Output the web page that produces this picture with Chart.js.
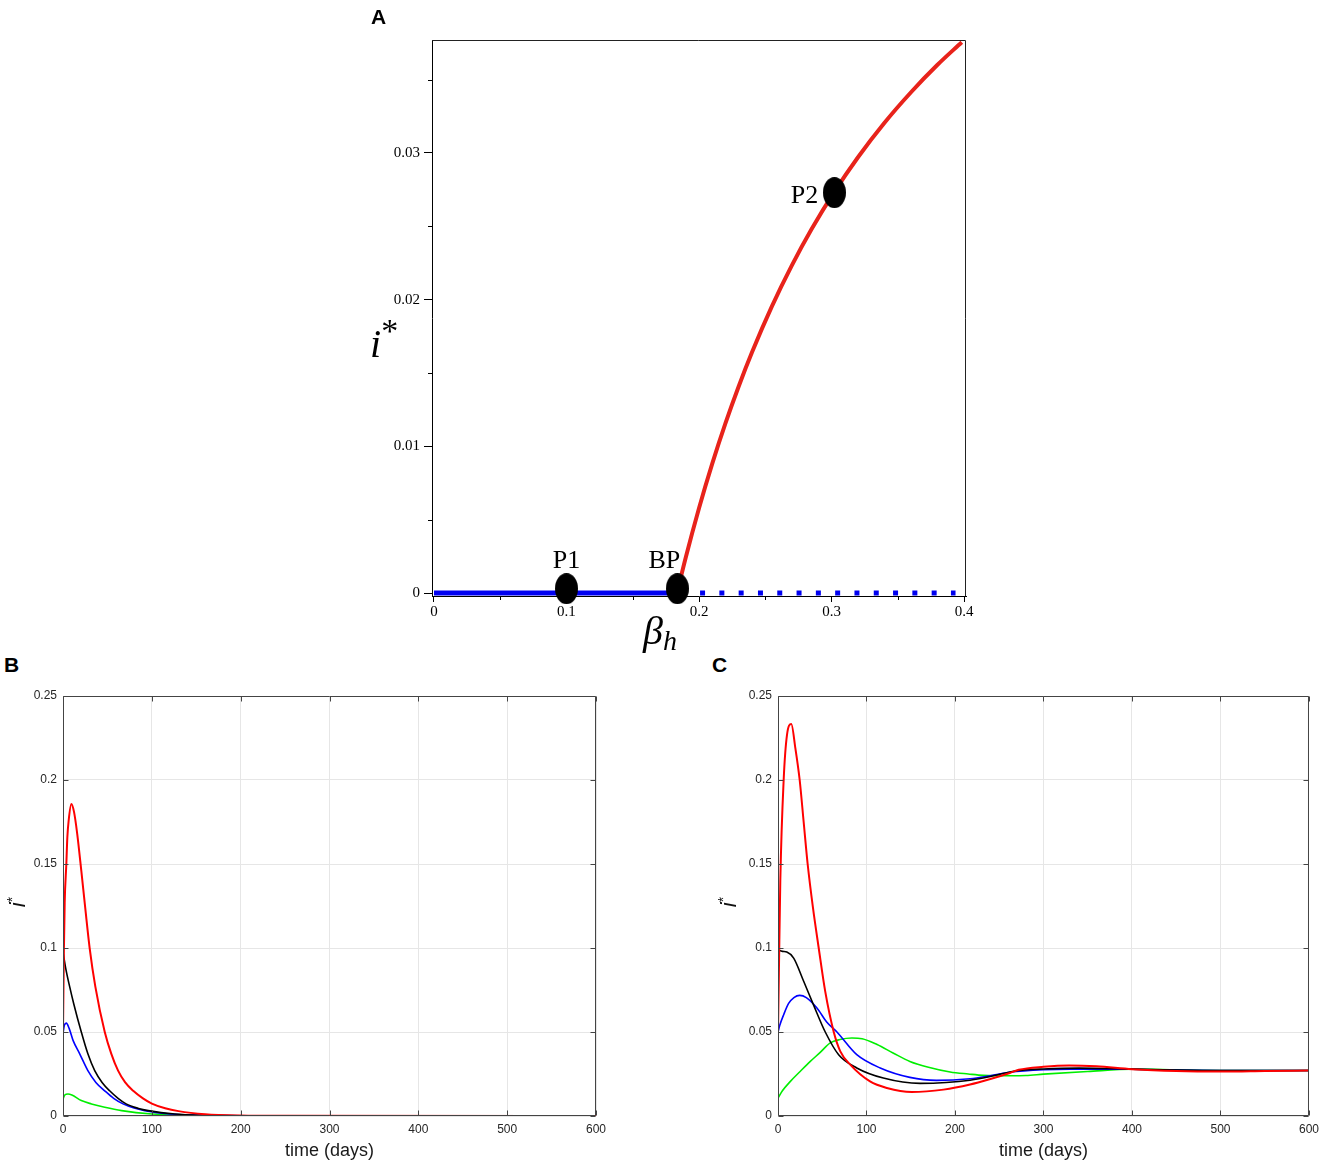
<!DOCTYPE html>
<html lang="en">
<head>
  <meta charset="UTF-8">
  <title>bifurcation and i* over time</title>
  <script src="https://cdn.jsdelivr.net/npm/chart.js@4.4.1/dist/chart.umd.min.js"></script>
  <style>
    html, body { margin: 0; padding: 0; background: #fff; }
    #page { position: relative; width: 1325px; height: 1166px; overflow: hidden; }
    .box { position: absolute; }
    .tag { position: absolute; font: bold 21px "Liberation Sans", Arial, sans-serif; line-height: 21px; color: #000; }
    .math { position: absolute; font-family: "Liberation Serif", "Times New Roman", serif; font-style: italic;
      font-size: 40px; line-height: 40px; color: #000; white-space: nowrap; }
    .ylab { position: absolute; width: 30px; height: 26px; line-height: 26px; text-align: center; color: #111;
      font: italic 22px "Liberation Sans", Arial, sans-serif; transform: rotate(-90deg); white-space: nowrap; }
  </style>
</head>
<body>
<div id="page">
  <div class="box" style="left:372px;top:27px;width:607px;height:603px"><canvas id="chartA"></canvas></div>
  <div class="box" style="left:0;top:680px;width:620px;height:486px"><canvas id="chartB"></canvas></div>
  <div class="box" style="left:710px;top:680px;width:615px;height:486px"><canvas id="chartC"></canvas></div>

  <div class="tag" style="left:371px;top:6px">A</div>
  <div class="tag" style="left:4px;top:654px">B</div>
  <div class="tag" style="left:712px;top:654px">C</div>

  <!-- axis titles of A -->
  <div class="math" style="left:370px;top:324px">i<span style="font-style:normal;font-size:34px;position:relative;top:-15px">*</span></div>
  <div class="math" style="left:643px;top:611px">β<span style="font-size:28px;position:relative;top:6px">h</span></div>

  <!-- rotated y titles of B and C -->
  <div class="ylab" style="left:3px;top:889px">i<span style="font-style:normal;font-size:14px;position:relative;top:-8px">*</span></div>
  <div class="ylab" style="left:714px;top:889px">i<span style="font-style:normal;font-size:14px;position:relative;top:-8px">*</span></div>
</div>

<script>
// ---------- A : equilibrium i* against beta_h
const aTicksX = [0, 0.1, 0.2, 0.3, 0.4];
const aTicksY = [0, 0.01, 0.02, 0.03];
const aMinorX = [0.05, 0.15, 0.25, 0.35];
const aMinorY = [0.005, 0.015, 0.025, 0.035];

const aStableBeta = [0, 0.1834];
const aStableI = [0, 0];
const aUnstableBeta = [0.2008, 0.3936];
const aUnstableI = [0, 0];
const aBranchBeta = [0.1834, 0.19, 0.20, 0.21, 0.22, 0.23, 0.24, 0.255, 0.27, 0.285, 0.302, 0.32, 0.34, 0.36, 0.38, 0.3983];
const aBranchI = [0, 0.00242, 0.00578, 0.00882, 0.01158, 0.0141, 0.01641, 0.01954, 0.02232, 0.02481, 0.02733, 0.02971, 0.03206, 0.03414, 0.03601, 0.03755];

const aPointNames = ['P1', 'BP', 'P2'];
const aPointBeta = [0.1, 0.1837, 0.3022];
const aPointI = [0.0003, 0.0003, 0.0273];

// ---------- B and C : i* against time (days)
const tTicks = [0, 100, 200, 300, 400, 500, 600];
const iTicks = [0, 0.05, 0.1, 0.15, 0.2, 0.25];

const bRedT = [0, 1, 1.9, 3.75, 4.9, 6.4, 9.4, 12.4, 16, 20.6, 25, 30, 36.4, 47, 54.4, 62, 70, 79, 90, 100, 115, 130, 160, 200, 250, 600];
const bRedI = [0.05, 0.098, 0.127, 0.15, 0.166, 0.176, 0.1857, 0.181, 0.168, 0.146, 0.124, 0.1, 0.077, 0.05, 0.037, 0.027, 0.02, 0.015, 0.0105, 0.0074, 0.0046, 0.0029, 0.0011, 0.0003, 0.0001, 0];
const bBlackT = [0, 3, 7.5, 12, 20.6, 28, 35.7, 44, 52.5, 62, 71, 85, 96, 126, 160, 200, 600];
const bBlackI = [0.0977, 0.088, 0.077, 0.067, 0.05, 0.037, 0.027, 0.02, 0.015, 0.0105, 0.0072, 0.0045, 0.0032, 0.0012, 0.0004, 0.0001, 0];
const bBlueT = [0, 1.5, 3.75, 7, 11.3, 18.8, 28, 37, 47, 57, 67.6, 80, 92, 120, 160, 200, 600];
const bBlueI = [0.049, 0.054, 0.0553, 0.052, 0.045, 0.037, 0.027, 0.02, 0.015, 0.0105, 0.0072, 0.0047, 0.0032, 0.0012, 0.0004, 0.0001, 0];
const bGreenT = [0, 2, 5.6, 10, 20.6, 32, 47, 66, 100, 140, 200, 600];
const bGreenI = [0.0101, 0.0125, 0.0131, 0.0125, 0.0092, 0.0072, 0.0052, 0.0032, 0.0012, 0.0004, 0.0001, 0];

const cRedT = [0, 1, 2.6, 6.4, 10.2, 15, 19.6, 24.5, 29, 33.5, 39.5, 46, 53.4, 63, 70.4, 81.6, 104, 123, 151, 187, 217, 240, 262, 272, 300, 329, 360, 400, 450, 503, 550, 600];
const cRedI = [0.05, 0.085, 0.14, 0.2, 0.227, 0.2333, 0.219, 0.2, 0.175, 0.15, 0.124, 0.1, 0.074, 0.05, 0.0385, 0.0306, 0.0206, 0.0167, 0.0143, 0.0157, 0.0187, 0.022, 0.0256, 0.0275, 0.0293, 0.0301, 0.0296, 0.0279, 0.0268, 0.0265, 0.0268, 0.0271];
const cBlackT = [0, 5, 10, 17.7, 29, 40, 53.4, 68.5, 89, 119, 160.6, 190, 217, 240, 262, 272, 300, 340, 400, 450, 500, 550, 600];
const cBlackI = [0.0988, 0.098, 0.0976, 0.094, 0.0802, 0.0663, 0.05, 0.0365, 0.0286, 0.0226, 0.0194, 0.0199, 0.0213, 0.0235, 0.0262, 0.0271, 0.028, 0.0285, 0.0279, 0.0273, 0.027, 0.0271, 0.0271];
const cBlueT = [0, 2, 6.4, 12, 18, 24.5, 32, 44, 55, 66.6, 89, 115.5, 149, 179, 217, 240, 262, 300, 330, 400, 450, 500, 600];
const cBlueI = [0.05, 0.054, 0.0603, 0.067, 0.0705, 0.0718, 0.0705, 0.0643, 0.056, 0.05, 0.0365, 0.0286, 0.023, 0.0212, 0.0222, 0.024, 0.026, 0.0275, 0.0279, 0.0278, 0.0273, 0.0271, 0.0271];
const cGreenT = [0, 5, 14, 25, 36.5, 48, 59, 70, 83.5, 95, 112, 130, 149, 170, 194.5, 215, 232, 262, 280, 300, 350, 400, 450, 500, 600];
const cGreenI = [0.0107, 0.015, 0.0206, 0.0265, 0.0325, 0.038, 0.0435, 0.0455, 0.0464, 0.046, 0.0425, 0.0375, 0.0325, 0.029, 0.0262, 0.025, 0.0242, 0.024, 0.0241, 0.0249, 0.0265, 0.0279, 0.0275, 0.0271, 0.0271];

function pts(xs, ys) { return xs.map((x, k) => ({ x: x, y: ys[k] })); }

// black ellipse marker used for P1, BP, P2
const dot = document.createElement('canvas');
dot.width = 23; dot.height = 31;
(function () {
  const g = dot.getContext('2d');
  g.fillStyle = '#000';
  g.beginPath();
  g.ellipse(11.5, 15.5, 11.5, 15.5, 0, 0, Math.PI * 2);
  g.fill();
})();

// label offsets (pixels) for P1, BP, P2
const aLabelShift = [[0, -21], [-13, -21], [-30, 10]];

const decorA = {
  id: 'decorA',
  afterDatasetsDraw(chart) {
    const ctx = chart.ctx, a = chart.chartArea, x = chart.scales.x, y = chart.scales.y;
    ctx.save();
    ctx.strokeStyle = '#222';
    ctx.lineWidth = 1;
    ctx.beginPath();
    ctx.moveTo(a.left, a.top + 0.5); ctx.lineTo(a.right - 0.5, a.top + 0.5); ctx.lineTo(a.right - 0.5, a.bottom);
    ctx.stroke();
    ctx.strokeStyle = '#000';
    ctx.beginPath();
    aMinorX.forEach(v => { const p = Math.round(x.getPixelForValue(v)) + 0.5; ctx.moveTo(p, a.bottom); ctx.lineTo(p, a.bottom + 4); });
    aMinorY.forEach(v => { const p = Math.round(y.getPixelForValue(v)) + 0.5; ctx.moveTo(a.left - 4, p); ctx.lineTo(a.left, p); });
    ctx.stroke();
    ctx.font = '26px "Liberation Serif", "Times New Roman", serif';
    ctx.fillStyle = '#000';
    ctx.textAlign = 'center';
    ctx.textBaseline = 'alphabetic';
    aPointNames.forEach((name, k) => {
      ctx.fillText(name, x.getPixelForValue(aPointBeta[k]) + aLabelShift[k][0], y.getPixelForValue(aPointI[k]) + aLabelShift[k][1]);
    });
    ctx.restore();
  }
};

new Chart(document.getElementById('chartA'), {
  type: 'line',
  data: {
    datasets: [
      { data: pts(aPointBeta, aPointI), showLine: false, pointStyle: dot, pointRadius: 12, clip: false },
      { data: pts(aBranchBeta, aBranchI), borderColor: '#e8231b', borderWidth: 4, pointRadius: 0, cubicInterpolationMode: 'monotone' },
      { data: pts(aStableBeta, aStableI), borderColor: '#0000f0', borderWidth: 5, pointRadius: 0, borderCapStyle: 'butt' },
      { data: pts(aUnstableBeta, aUnstableI), borderColor: '#0000f0', borderWidth: 5, pointRadius: 0, borderDash: [5, 14.3], borderCapStyle: 'butt' }
    ]
  },
  options: {
    responsive: true, maintainAspectRatio: false, animation: false,
    layout: { padding: { top: 10, right: 10, left: 0, bottom: 0 } },
    plugins: { legend: { display: false }, tooltip: { enabled: false } },
    scales: {
      x: {
        type: 'linear', min: -0.0015, max: 0.4015,
        afterBuildTicks: s => { s.ticks = aTicksX.map(v => ({ value: v })); },
        afterFit: s => { s.height = 34; },
        ticks: { callback: v => String(v), autoSkip: false, maxRotation: 0, padding: 1, color: '#000',
          font: { family: '"Liberation Serif", "Times New Roman", serif', size: 15 } },
        grid: { drawOnChartArea: false, tickLength: 6, color: '#000' },
        border: { color: '#000', width: 1 }
      },
      y: {
        type: 'linear', min: -0.0002, max: 0.0377,
        afterBuildTicks: s => { s.ticks = aTicksY.map(v => ({ value: v })); },
        afterFit: s => { s.width = 60; },
        ticks: { callback: v => String(v), autoSkip: false, padding: 4, color: '#000',
          font: { family: '"Liberation Serif", "Times New Roman", serif', size: 15 } },
        grid: { drawOnChartArea: false, tickLength: 8, color: '#000' },
        border: { color: '#000', width: 1 }
      }
    }
  },
  plugins: [decorA]
});

// matlab-like box with inward ticks on all four sides
const boxTicks = {
  id: 'boxTicks',
  afterDatasetsDraw(chart) {
    const ctx = chart.ctx, a = chart.chartArea, x = chart.scales.x, y = chart.scales.y;
    const L = a.left + 0.5, R = a.right - 0.5, T = a.top + 0.5, B = a.bottom - 0.5;
    ctx.save();
    ctx.strokeStyle = '#444';
    ctx.lineWidth = 1;
    ctx.beginPath();
    ctx.rect(L, T, R - L, B - T);
    tTicks.forEach(v => { const p = Math.round(x.getPixelForValue(v)) + 0.5; ctx.moveTo(p, B); ctx.lineTo(p, B - 5); ctx.moveTo(p, T); ctx.lineTo(p, T + 5); });
    iTicks.forEach(v => { const p = Math.round(y.getPixelForValue(v)) + 0.5; ctx.moveTo(L, p); ctx.lineTo(L + 5, p); ctx.moveTo(R, p); ctx.lineTo(R - 5, p); });
    ctx.stroke();
    ctx.restore();
  }
};

function curve(xs, ys, color, width) {
  return { data: pts(xs, ys), borderColor: color, borderWidth: width, pointRadius: 0, cubicInterpolationMode: 'monotone' };
}

function timeChart(id, axisWidth, padRight, sets) {
  const tickFont = { family: '"Liberation Sans", Arial, sans-serif', size: 12 };
  return new Chart(document.getElementById(id), {
    type: 'line',
    data: { datasets: sets },
    options: {
      responsive: true, maintainAspectRatio: false, animation: false,
      layout: { padding: { top: 16, right: padRight, left: 0, bottom: 0 } },
      plugins: { legend: { display: false }, tooltip: { enabled: false } },
      scales: {
        x: {
          type: 'linear', min: 0, max: 600,
          afterBuildTicks: s => { s.ticks = tTicks.map(v => ({ value: v })); },
          afterFit: s => { s.height = 50; },
          ticks: { callback: v => String(v), autoSkip: false, maxRotation: 0, padding: 6, color: '#262626', font: tickFont },
          grid: { color: '#e6e6e6', drawTicks: false },
          border: { display: false },
          title: { display: true, text: 'time (days)', color: '#1a1a1a', padding: { top: 0, bottom: 4 },
            font: { family: '"Liberation Sans", Arial, sans-serif', size: 18 } }
        },
        y: {
          type: 'linear', min: 0, max: 0.25,
          afterBuildTicks: s => { s.ticks = iTicks.map(v => ({ value: v })); },
          afterFit: s => { s.width = axisWidth; },
          ticks: { callback: v => String(v), autoSkip: false, padding: 6, color: '#262626', font: tickFont },
          grid: { color: '#e6e6e6', drawTicks: false },
          border: { display: false }
        }
      }
    },
    plugins: [boxTicks]
  });
}

timeChart('chartB', 63, 24, [
  curve(bRedT, bRedI, '#ff0000', 2),
  curve(bBlackT, bBlackI, '#000000', 1.6),
  curve(bBlueT, bBlueI, '#0000ff', 1.6),
  curve(bGreenT, bGreenI, '#00ee00', 1.6)
]);

timeChart('chartC', 68, 15, [
  curve(cRedT, cRedI, '#ff0000', 2),
  curve(cBlackT, cBlackI, '#000000', 1.6),
  curve(cBlueT, cBlueI, '#0000ff', 1.6),
  curve(cGreenT, cGreenI, '#00ee00', 1.6)
]);
</script>
</body>
</html>
